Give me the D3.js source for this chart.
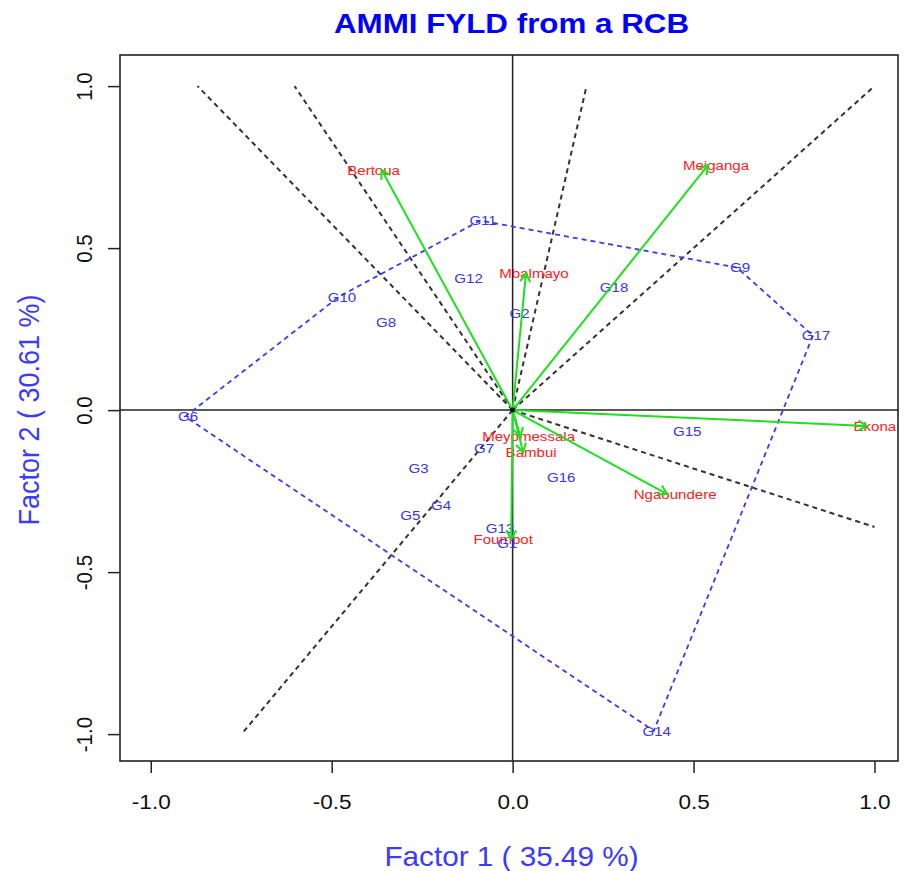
<!DOCTYPE html>
<html>
<head>
<meta charset="utf-8">
<script src="https://cdn.jsdelivr.net/npm/d3@7"></script>
<style>
  body { margin: 0; background: #fff; }
  svg { display: block; font-family: "Liberation Sans", Arial, sans-serif; }
</style>
</head>
<body>
<svg id="chart" width="905" height="871"></svg>
<script>
// AMMI biplot data (IPCA1, IPCA2)
const genotypes = ["G1", "G2", "G3", "G4", "G5", "G6", "G7", "G8", "G9",
                   "G10", "G11", "G12", "G13", "G14", "G15", "G16", "G17", "G18"];
const genoX = [-0.023, 0.011, -0.268, -0.206, -0.291, -0.905, -0.087, -0.358, 0.62,
               -0.48, -0.09, -0.13, -0.043, 0.39, 0.474, 0.126, 0.83, 0.272];
const genoY = [-0.41, 0.299, -0.178, -0.293, -0.324, -0.02, -0.117, 0.272, 0.44,
               0.35, 0.585, 0.407, -0.364, -0.99, -0.065, -0.207, 0.23, 0.38];

const envNames = ["Bertoua", "Meiganga", "Mbalmayo", "Ekona", "Ngaoundere",
                  "Meyomessala", "Bambui", "Foumbot"];
const envX = [-0.362, 0.540, 0.037, 0.979, 0.427, 0.022, 0.029, -0.004];
const envY = [0.741, 0.756, 0.423, -0.049, -0.259, -0.082, -0.130, -0.398];

const xTicks = [-1, -0.5, 0, 0.5, 1];
const yTicks = [-1, -0.5, 0, 0.5, 1];

const title = "AMMI FYLD from a RCB";
const xLabel = "Factor 1 ( 35.49 %)";
const yLabel = "Factor 2 ( 30.61 %)";

const svg = d3.select("#chart");
const stretch = 1.1; // picture is a bit wider than tall

const x = d3.scaleLinear().domain([-1.085, 1.065]).range([120, 898]);
const y = d3.scaleLinear().domain([-1.083, 1.096]).range([761, 55]);

svg.append("rect").attr("width", 905).attr("height", 871).attr("fill", "#fff");

// horizontal text with the picture's stretch
function hText(px, py, str, size, color, weight) {
    return svg.append("text")
        .attr("transform", `translate(${px},${py}) scale(${stretch},1)`)
        .attr("text-anchor", "middle")
        .attr("font-size", size)
        .attr("font-weight", weight || "normal")
        .attr("fill", color)
        .text(str);
}

// zero lines
svg.append("line")
    .attr("x1", x.range()[0]).attr("x2", x.range()[1])
    .attr("y1", y(0)).attr("y2", y(0))
    .attr("stroke", "#222").attr("stroke-width", 1.5);
svg.append("line")
    .attr("x1", x(0)).attr("x2", x(0))
    .attr("y1", y.range()[0]).attr("y2", y.range()[1])
    .attr("stroke", "#222").attr("stroke-width", 1.5);

// polygon of the vertex genotypes
const pts = genotypes.map((g, i) => [genoX[i], genoY[i]]);
const hull = d3.polygonHull(pts);

// lines from origin perpendicular to each hull side, out to |1|
const sectors = [];
for (let i = 0; i < hull.length; i++) {
    const a = hull[i], b = hull[(i + 1) % hull.length];
    const dx = b[0] - a[0], dy = b[1] - a[1];
    const t = -(a[0] * dx + a[1] * dy) / (dx * dx + dy * dy);
    const fx = a[0] + t * dx, fy = a[1] + t * dy;
    const s = 1 / Math.max(Math.abs(fx), Math.abs(fy));
    sectors.push([fx * s, fy * s]);
}

svg.append("g").selectAll("line")
    .data(sectors)
    .join("line")
    .attr("x1", x(0)).attr("y1", y(0))
    .attr("x2", d => x(d[0])).attr("y2", d => y(d[1]))
    .attr("stroke", "#333")
    .attr("stroke-width", 2)
    .attr("stroke-dasharray", "5,4");

svg.append("path")
    .datum(hull)
    .attr("d", d => "M" + d.map(p => [x(p[0]), y(p[1])].join(",")).join("L") + "Z")
    .attr("fill", "none")
    .attr("stroke", "#3a3af6")
    .attr("stroke-width", 1.8)
    .attr("stroke-dasharray", "5,4");

// environment labels
envNames.forEach((name, i) => {
    hText(x(envX[i]) + Math.sign(envX[i]) * 8, y(envY[i]), name, 13.7, "#ff2020")
        .attr("dy", "0.35em");
});

// genotype labels
genotypes.forEach((g, i) => {
    hText(x(genoX[i]) + 3, y(genoY[i]), g, 13.7, "#3434f2")
        .attr("dy", "0.35em");
});

// environment vectors
const arrowG = svg.append("g")
    .attr("stroke", "#1fe01f")
    .attr("stroke-width", 2)
    .attr("fill", "none");
envNames.forEach((name, i) => {
    const x0 = x(0), y0 = y(0);
    const x1 = x(envX[i]), y1 = y(envY[i]);
    const ang = Math.atan2(y1 - y0, x1 - x0);
    const len = 10, spread = Math.PI / 6;
    arrowG.append("line")
        .attr("x1", x0).attr("y1", y0).attr("x2", x1).attr("y2", y1);
    arrowG.append("path")
        .attr("d", `M${x1 - len * Math.cos(ang - spread)},${y1 - len * Math.sin(ang - spread)}`
            + `L${x1},${y1}`
            + `L${x1 - len * Math.cos(ang + spread)},${y1 - len * Math.sin(ang + spread)}`);
});

svg.append("circle")
    .attr("cx", x(0)).attr("cy", y(0)).attr("r", 2.5).attr("fill", "#111");

// box
svg.append("rect")
    .attr("x", x.range()[0]).attr("y", y.range()[1])
    .attr("width", x.range()[1] - x.range()[0])
    .attr("height", y.range()[0] - y.range()[1])
    .attr("fill", "none").attr("stroke", "#222").attr("stroke-width", 1.6);

// axes
const fmt = d => d.toFixed(1);
const xAxis = svg.append("g")
    .attr("transform", `translate(0,${y.range()[0]})`)
    .call(d3.axisBottom(x).tickValues(xTicks).tickSize(12).tickFormat(fmt));
xAxis.select(".domain").remove();
xAxis.selectAll(".tick line").attr("stroke", "#222").attr("stroke-width", 1.5);
xAxis.selectAll(".tick text")
    .attr("y", 0).attr("dy", 0)
    .attr("transform", `translate(0,48) scale(${stretch},1)`)
    .attr("font-size", 20.5)
    .attr("font-family", "Liberation Sans, Arial, sans-serif")
    .attr("fill", "#111");

const yAxis = svg.append("g")
    .attr("transform", `translate(${x.range()[0]},0)`)
    .call(d3.axisLeft(y).tickValues(yTicks).tickSize(12).tickFormat(fmt));
yAxis.select(".domain").remove();
yAxis.selectAll(".tick line").attr("stroke", "#222").attr("stroke-width", 1.5);
yAxis.selectAll(".tick text")
    .attr("x", 0).attr("dy", 0)
    .attr("text-anchor", "middle")
    .attr("transform", `translate(-28,0) rotate(-90) scale(1,${stretch})`)
    .attr("font-size", 20.5)
    .attr("font-family", "Liberation Sans, Arial, sans-serif")
    .attr("fill", "#111");

// titles
hText(511.5, 33, title, 28.5, "#0000ff", "bold");
hText(511.5, 866, xLabel, 27, "#3b3bff");
svg.append("text")
    .attr("transform", `translate(39,410) rotate(-90) scale(1,${stretch})`)
    .attr("text-anchor", "middle")
    .attr("font-size", 27)
    .attr("fill", "#3b3bff")
    .text(yLabel);
</script>
</body>
</html>
